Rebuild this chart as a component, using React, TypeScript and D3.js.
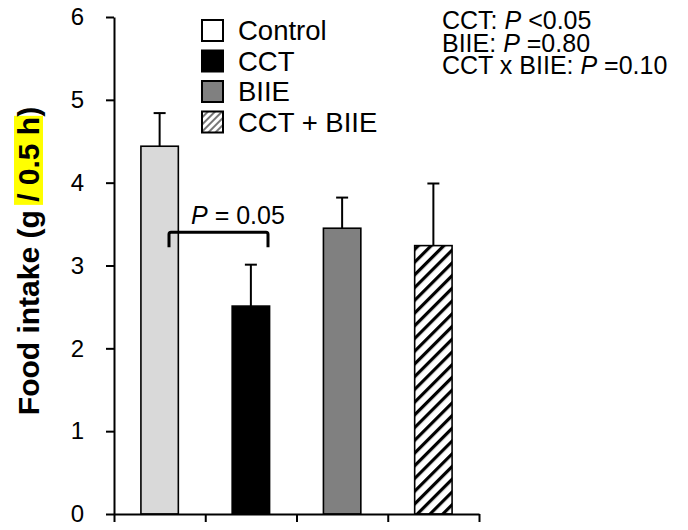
import React, { useRef, useEffect } from 'react';
import * as d3 from 'd3';

const groups = ['Control', 'CCT', 'BIIE', 'CCT + BIIE'];
const means = [4.44, 2.51, 3.45, 3.24];
const sems = [0.4, 0.5, 0.37, 0.75];
const yTicks = [0, 1, 2, 3, 4, 5, 6];
const statLines = [
  ['CCT: ', 'P', ' <0.05'],
  ['BIIE: ', 'P', ' =0.80'],
  ['CCT x BIIE: ', 'P', ' =0.10'],
];

const W = 688;
const H = 530;

const App = () => {
  const svgRef = useRef<SVGSVGElement>(null);

  useEffect(() => {
    const svg = d3.select(svgRef.current);
    svg.selectAll('*').remove();

    const font = 'Arial, "Liberation Sans", sans-serif';
    const x0 = 114, x1 = 479, yTop = 17, yBot = 514;

    const x = d3.scaleBand().domain(groups).range([x0, x1]).paddingInner(0.59).paddingOuter(0.295);
    const y = d3.scaleLinear().domain([0, 6]).range([yBot, yTop]);

    const defs = svg.append('defs');
    const hatch = defs.append('pattern')
      .attr('id', 'hatch').attr('patternUnits', 'userSpaceOnUse')
      .attr('width', 9).attr('height', 9)
      .attr('patternTransform', 'rotate(45)');
    hatch.append('rect').attr('width', 9).attr('height', 9).attr('fill', '#fff');
    hatch.append('rect').attr('width', 3.2).attr('height', 9).attr('fill', '#000');

    const hatchSmall = defs.append('pattern')
      .attr('id', 'hatchSmall').attr('patternUnits', 'userSpaceOnUse')
      .attr('width', 5).attr('height', 5)
      .attr('patternTransform', 'rotate(45)');
    hatchSmall.append('rect').attr('width', 5).attr('height', 5).attr('fill', '#fff');
    hatchSmall.append('rect').attr('width', 2).attr('height', 5).attr('fill', '#777');

    const fills = ['#d9d9d9', '#000', '#808080', 'url(#hatch)'];
    const legendFills = ['#fff', '#000', '#808080', 'url(#hatchSmall)'];

    // y axis label with highlight
    const lab = svg.append('g').attr('transform', `translate(39, 261) rotate(-90)`);
    const hl = lab.append('rect').attr('fill', '#ffff00');
    const labText = lab.append('text')
      .attr('text-anchor', 'middle')
      .attr('font-family', font).attr('font-weight', 'bold').attr('font-size', 30)
      .text('Food intake (g / 0.5 h)');
    const node = labText.node() as SVGTextElement;
    const full = node.textContent || '';
    const start = full.indexOf('/');
    const end = full.indexOf(')');
    const bb = node.getBBox();
    const e1 = node.getExtentOfChar(start);
    const e2 = node.getExtentOfChar(end - 1);
    hl.attr('x', e1.x - 3).attr('width', e2.x + e2.width - e1.x + 4)
      .attr('y', bb.y + 2).attr('height', bb.height - 4);

    // bars
    groups.forEach((g, i) => {
      const cx = (x(g) as number) + x.bandwidth() / 2;
      svg.append('line')
        .attr('x1', cx).attr('x2', cx)
        .attr('y1', y(means[i])).attr('y2', y(means[i] + sems[i]))
        .attr('stroke', '#000').attr('stroke-width', 2);
      svg.append('line')
        .attr('x1', cx - 6).attr('x2', cx + 6)
        .attr('y1', y(means[i] + sems[i])).attr('y2', y(means[i] + sems[i]))
        .attr('stroke', '#000').attr('stroke-width', 2);
      svg.append('rect')
        .attr('x', x(g) as number).attr('y', y(means[i]))
        .attr('width', x.bandwidth()).attr('height', yBot - y(means[i]))
        .attr('fill', fills[i]).attr('stroke', '#000').attr('stroke-width', 1.6);
    });

    // axes
    const yAxis = svg.append('g').attr('transform', `translate(${x0},0)`)
      .call(d3.axisLeft(y).tickValues(yTicks).tickFormat(d3.format('d')).tickSize(8).tickSizeOuter(0).tickPadding(22));
    yAxis.select('.domain').attr('stroke-width', 2);
    yAxis.selectAll('.tick line').attr('stroke-width', 2);
    yAxis.selectAll('.tick text').attr('font-family', font).attr('font-size', 24).attr('fill', '#000');

    const xb = d3.scaleLinear().domain([0, groups.length]).range([x0, x1]);
    const xAxis = svg.append('g').attr('transform', `translate(0,${yBot})`)
      .call(d3.axisBottom(xb).tickValues(d3.range(0, groups.length + 1)).tickSize(9).tickSizeOuter(0).tickFormat(() => ''));
    xAxis.select('.domain').attr('stroke-width', 2);
    xAxis.selectAll('.tick line').attr('stroke-width', 2);

    // significance bracket
    const bx1 = 169, bx2 = 268, by = y(3.4);
    svg.append('path')
      .attr('d', `M${bx1},${by + 15} L${bx1},${by + 2} Q${bx1},${by} ${bx1 + 2},${by} L${bx2 - 2},${by} Q${bx2},${by} ${bx2},${by + 2} L${bx2},${by + 15}`)
      .attr('fill', 'none').attr('stroke', '#000').attr('stroke-width', 3);
    const pt = svg.append('text').attr('x', 191).attr('y', by - 8)
      .attr('font-family', font).attr('font-size', 25);
    pt.append('tspan').attr('font-style', 'italic').text('P');
    pt.append('tspan').text(' = 0.05');

    // legend
    groups.forEach((g, i) => {
      const ly = 20 + i * 30.5;
      svg.append('rect')
        .attr('x', 202).attr('y', ly).attr('width', 21).attr('height', 21)
        .attr('fill', legendFills[i]).attr('stroke', '#000').attr('stroke-width', 2);
      svg.append('text')
        .attr('x', 238).attr('y', ly + 20)
        .attr('font-family', font).attr('font-size', 27.5)
        .text(g);
    });

    // stats
    statLines.forEach((parts, i) => {
      const t = svg.append('text').attr('x', 442).attr('y', 29 + i * 22.5)
        .attr('font-family', font).attr('font-size', 25);
      t.append('tspan').text(parts[0]);
      t.append('tspan').attr('font-style', 'italic').text(parts[1]);
      t.append('tspan').text(parts[2]);
    });

    svg.attr('width', W).attr('height', H);
  }, []);

  return (
    <div style={{ margin: -8 }}>
      <svg ref={svgRef} style={{ display: 'block', background: '#fff' }}></svg>
    </div>
  );
};

export default App;
